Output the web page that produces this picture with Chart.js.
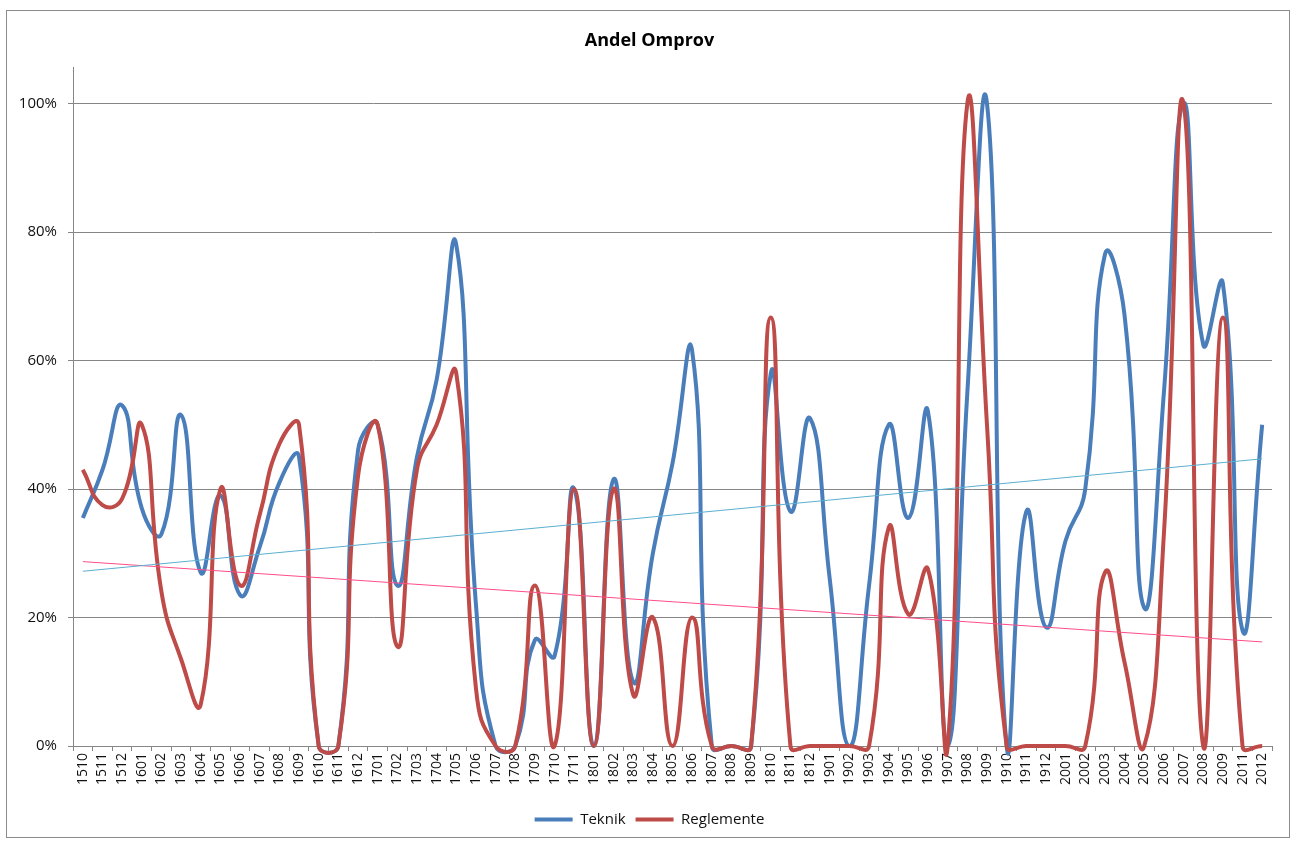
<!DOCTYPE html>
<html>
<head>
<meta charset="utf-8">
<title>Andel Omprov</title>
<script src="https://cdn.jsdelivr.net/npm/chart.js@4.4.1/dist/chart.umd.min.js"></script>
<style>
    body { margin: 0; background: #fff; }
    #ram {
        position: absolute; left: 6px; top: 10px;
        width: 1282px; height: 826px;
        border: 1px solid #8c8c8c;
    }
</style>
</head>
<body>
<div id="ram"><canvas id="graficoOmprov" width="1282" height="826"></canvas></div>
<script>
// DATA
const perioder = ['1510', '1511', '1512', '1601', '1602', '1603', '1604', '1605', '1606', '1607',
    '1608', '1609', '1610', '1611', '1612', '1701', '1702', '1703', '1704', '1705',
    '1706', '1707', '1708', '1709', '1710', '1711', '1801', '1802', '1803', '1804',
    '1805', '1806', '1807', '1808', '1809', '1810', '1811', '1812', '1901', '1902',
    '1903', '1904', '1905', '1906', '1907', '1908', '1909', '1910', '1911', '1912',
    '2001', '2002', '2003', '2004', '2005', '2006', '2007', '2008', '2009', '2011', '2012'];

const teknik = [0.355, 0.43, 0.53, 0.37, 0.33, 0.515, 0.27, 0.39, 0.235, 0.31,
    0.41, 0.45, 0, 0, 0.46, 0.50, 0.25, 0.45, 0.57, 0.78,
    0.22, 0, 0, 0.165, 0.14, 0.40, 0, 0.415, 0.10, 0.30,
    0.44, 0.615, 0, 0, 0, 0.58, 0.365, 0.51, 0.26, 0,
    0.25, 0.50, 0.355, 0.52, 0, 0.55, 1.0, 0, 0.365, 0.185,
    0.32, 0.40, 0.765, 0.67, 0.215, 0.55, 1.0, 0.625, 0.72, 0.18, 0.50];

const reglemente = [0.43, 0.375, 0.385, 0.50, 0.24, 0.135, 0.065, 0.40, 0.25, 0.36,
    0.47, 0.50, 0, 0, 0.42, 0.50, 0.155, 0.43, 0.50, 0.58,
    0.09, 0, 0, 0.25, 0, 0.40, 0, 0.40, 0.08, 0.20,
    0, 0.20, 0, 0, 0, 0.667, 0, 0, 0, 0,
    0, 0.34, 0.205, 0.275, 0, 1.0, 0.50, 0, 0, 0,
    0, 0, 0.27, 0.13, 0, 0.33, 1.0, 0, 0.667, 0, 0];

// trendlinjer: start- och slutvarde
const teknikTrend = [0.272, 0.447];
const reglementeTrend = [0.287, 0.162];

const yTicks = [0, 0.2, 0.4, 0.6, 0.8, 1.0];

// FUNKTIONER
function trendSerie(andar) {
    const serie = perioder.map(() => null);
    serie[0] = andar[0];
    serie[serie.length - 1] = andar[1];
    return serie;
}

// flyttar titel och forklaring lite at hoger, som i Excel
const centrera = {
    id: 'centrera',
    afterLayout: function (chart) {
        [chart.titleBlock, chart.legend].forEach(function (box) {
            if (box) {
                box.left += 10;
                box.right += 10;
            }
        });
    }
};

function ritaDiagram() {
    const ctx = document.getElementById('graficoOmprov').getContext('2d');
    const typsnitt = "'Open Sans', 'Liberation Sans', sans-serif";
    const gra = '#868686';
    const legendPadding = 10;

    new Chart(ctx, {
        type: 'line',
        data: {
            labels: perioder,
            datasets: [{
                label: 'Teknik',
                data: teknik,
                borderColor: '#4A7EBB',
                backgroundColor: '#4A7EBB',
                borderWidth: 4,
                order: 2
            }, {
                label: 'Reglemente',
                data: reglemente,
                borderColor: '#BE4B48',
                backgroundColor: '#BE4B48',
                borderWidth: 4,
                order: 1
            }, {
                label: 'trend Teknik',
                data: trendSerie(teknikTrend),
                borderColor: '#5AAFD0',
                borderWidth: 1,
                tension: 0,
                spanGaps: true,
                order: 0
            }, {
                label: 'trend Reglemente',
                data: trendSerie(reglementeTrend),
                borderColor: '#FF4D88',
                borderWidth: 1,
                tension: 0,
                spanGaps: true,
                order: 0
            }]
        },
        options: {
            responsive: false,
            animation: false,
            layout: { padding: { left: 0, right: 17, top: 0, bottom: 0 } },
            elements: {
                point: { radius: 0, hoverRadius: 0 },
                line: { tension: 0.5, capBezierPoints: false, fill: false }
            },
            datasets: { line: { clip: false } },
            scales: {
                x: {
                    offset: true,
                    afterFit: function (scale) { scale.height = 826 - 25 - legendPadding - 735; },
                    grid: { display: true, drawOnChartArea: false, offset: true, tickLength: 5, color: gra },
                    border: { display: true, color: gra },
                    ticks: {
                        autoSkip: false, minRotation: 90, maxRotation: 90,
                        color: '#111', padding: 2,
                        font: { family: typsnitt, size: 14 }
                    }
                },
                y: {
                    min: 0,
                    max: 1.056,
                    afterBuildTicks: function (scale) {
                        scale.ticks = yTicks.map(v => ({ value: v }));
                    },
                    afterFit: function (scale) { scale.width = 66; },
                    grid: { color: gra, tickLength: 5 },
                    border: { display: true, color: gra },
                    ticks: {
                        color: '#111', padding: 11,
                        font: { family: typsnitt, size: 15 },
                        callback: v => Math.round(v * 100) + '%'
                    }
                }
            },
            plugins: {
                title: {
                    display: true,
                    text: 'Andel Omprov',
                    color: '#000',
                    font: { family: typsnitt, size: 18, weight: 'bold' },
                    padding: { top: 19, bottom: 16 }
                },
                tooltip: { enabled: false },
                legend: {
                    position: 'bottom',
                    labels: {
                        boxWidth: 38,
                        boxHeight: 4,
                        padding: legendPadding,
                        color: '#111',
                        font: { family: typsnitt, size: 15 },
                        sort: (a, b) => a.datasetIndex - b.datasetIndex,
                        generateLabels: function (chart) {
                            const poster = Chart.defaults.plugins.legend.labels.generateLabels(chart);
                            return poster.filter(p => p.datasetIndex < 2).map(p => {
                                p.lineWidth = 0;
                                return p;
                            });
                        }
                    }
                }
            }
        },
        plugins: [centrera]
    });
}

ritaDiagram();
</script>
</body>
</html>
